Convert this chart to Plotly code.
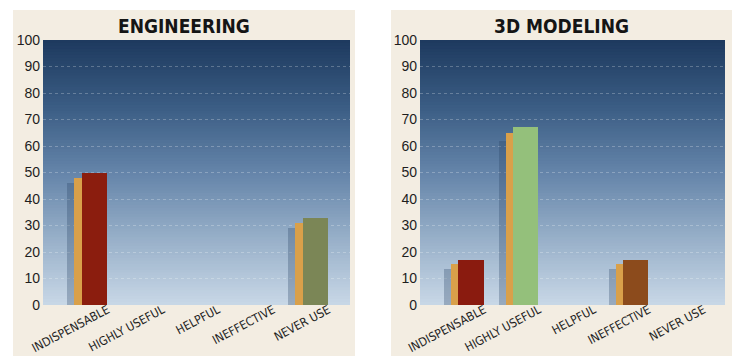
import numpy as np
import plotly.graph_objects as go

categories = ["INDISPENSABLE", "HIGHLY USEFUL", "HELPFUL", "INEFFECTIVE", "NEVER USE"]
y_ticks = [0, 10, 20, 30, 40, 50, 60, 70, 80, 90, 100]

# engineering panel (percent)
eng_front = [50, 0, 0, 0, 33]
eng_side = [48, 0, 0, 0, 31]
eng_shadow = [46, 0, 0, 0, 29]
eng_colors = ["#8b1d0e", "#8b1d0e", "#8b1d0e", "#8b1d0e", "#7b8656"]

# 3d modeling panel (percent)
mod_front = [17, 67, 0, 17, 0]
mod_side = [15.5, 65, 0, 15.5, 0]
mod_shadow = [13.5, 62, 0, 13.5, 0]
mod_colors = ["#8a1b0f", "#94c07b", "#94c07b", "#8c4b1c", "#8c4b1c"]

titles = ["ENGINEERING", "3D MODELING"]

SIDE = "#d9a04a"
SHADOW = "rgba(40,65,100,0.3)"
BEIGE = "#f3ede2"
NARROW = "DejaVu Sans Condensed, Liberation Sans Narrow, Roboto, sans-serif"

# background gradient stops (bottom -> top)
grad_pos = [0.0, 0.25, 0.5, 0.75, 1.0]
grad_rgb = np.array([[201, 216, 231], [152, 176, 201], [101, 133, 170],
                     [59, 93, 132], [30, 58, 95]])

x = list(range(len(categories)))
fig = go.Figure()


def add_panel(front, side, shadow, colors, xa, ya):
    fig.add_trace(go.Bar(x=x, y=shadow, offset=-0.49, width=0.14,
                         marker=dict(color=SHADOW, line_width=0),
                         xaxis=xa, yaxis=ya, hoverinfo="skip"))
    fig.add_trace(go.Bar(x=x, y=side, offset=-0.36, width=0.14,
                         marker=dict(color=SIDE, line_width=0),
                         xaxis=xa, yaxis=ya, hoverinfo="skip"))
    fig.add_trace(go.Bar(x=x, y=front, offset=-0.23, width=0.46,
                         marker=dict(color=colors, line_width=0),
                         xaxis=xa, yaxis=ya))


add_panel(eng_front, eng_side, eng_shadow, eng_colors, "x", "y")
add_panel(mod_front, mod_side, mod_shadow, mod_colors, "x2", "y2")

W, H = 738, 356
ydom = [1 - 305 / H, 1 - 40 / H]
doms = [[43 / W, 350 / W], [420 / W, 725 / W]]
panels = [[13, 355], [391, 732]]

shapes = []
for p in panels:
    shapes.append(dict(type="rect", xref="paper", yref="paper",
                       x0=p[0] / W, x1=p[1] / W, y0=0, y1=1 - 10 / H,
                       fillcolor=BEIGE, line_width=0, layer="below"))

# gradient backdrop, strips overlap so no seams show
N = 90
for ax in ["x", "x2"]:
    ya = "y" if ax == "x" else "y2"
    for k in range(N):
        t = (k + 0.5) / N
        c = [int(np.interp(t, grad_pos, grad_rgb[:, i])) for i in range(3)]
        shapes.append(dict(type="rect", xref=ax + " domain", yref=ya + " domain",
                           x0=0, x1=1, y0=k / N, y1=min(1, (k + 2) / N),
                           fillcolor="rgb(%d,%d,%d)" % tuple(c), line_width=0,
                           layer="below"))

annotations = []
for p, t in zip(panels, titles):
    annotations.append(dict(text="<b>%s</b>" % t, xref="paper", yref="paper",
                            x=(p[0] + p[1]) / 2 / W, y=1 - 26 / H,
                            xanchor="center", yanchor="middle", showarrow=False,
                            font=dict(family=NARROW, size=19, color="#151515")))

xcommon = dict(range=[-0.93, 4.63], tickvals=[i + 0.24 for i in x],
               ticktext=categories, tickangle=-28, showgrid=False,
               zeroline=False, ticks="", showline=False, automargin=False,
               ticklabelstandoff=-5,
               tickfont=dict(family=NARROW, size=12, color="#1e1e1e"))
ycommon = dict(range=[0, 100], tickvals=y_ticks, showgrid=True,
               gridcolor="rgba(255,255,255,0.25)", griddash="dot", gridwidth=1,
               zeroline=False, ticks="", showline=False, automargin=False,
               ticklabelstandoff=2,
               tickfont=dict(family="Liberation Sans", size=14, color="#1e1e1e"))

fig.update_layout(
    width=W, height=H, margin=dict(l=0, r=0, t=0, b=0),
    paper_bgcolor="white", plot_bgcolor="rgba(0,0,0,0)",
    barmode="overlay", showlegend=False, bargap=0,
    xaxis=dict(domain=doms[0], anchor="y", **xcommon),
    yaxis=dict(domain=ydom, anchor="x", **ycommon),
    xaxis2=dict(domain=doms[1], anchor="y2", **xcommon),
    yaxis2=dict(domain=ydom, anchor="x2", **ycommon),
    shapes=shapes, annotations=annotations,
)

fig.write_html("out.html", config={"displayModeBar": False},
               post_script="document.body.style.margin='0';")
